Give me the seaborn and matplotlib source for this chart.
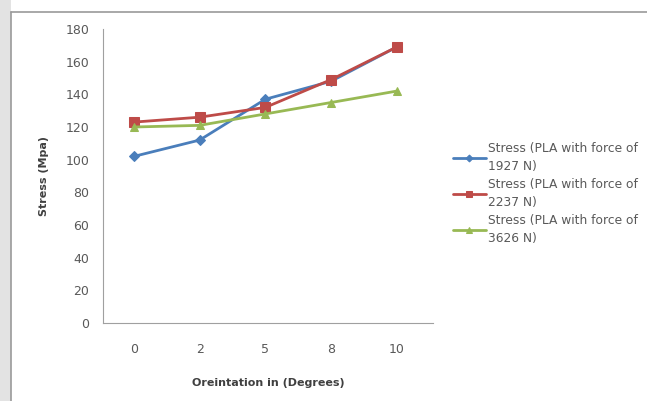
import matplotlib
matplotlib.use("Agg")
import matplotlib.pyplot as plt
from matplotlib.patches import Rectangle
from matplotlib.lines import Line2D
import seaborn as sns
import pandas as pd

orientation = ["0", "2", "5", "8", "10"]
stress_1927 = [102, 112, 137, 148, 169]
stress_2237 = [123, 126, 132, 149, 169]
stress_3626 = [120, 121, 128, 135, 142]
series_names = [
    "Stress (PLA with force of\n1927 N)",
    "Stress (PLA with force of\n2237 N)",
    "Stress (PLA with force of\n3626 N)",
]
y_ticks = [0, 20, 40, 60, 80, 100, 120, 140, 160, 180]

colors = ["#4A7EBB", "#BE4B48", "#98B954"]
markers = ["D", "s", "^"]
marker_sizes = [5, 7, 6]

sns.set_style("white")
plt.rcParams["font.family"] = ["DejaVu Sans"]

df = pd.concat([
    pd.DataFrame({"Orientation": orientation, "Stress": vals, "Series": name})
    for vals, name in zip([stress_1927, stress_2237, stress_3626], series_names)
])

fig = plt.figure(figsize=(6.47, 4.01), dpi=100)
fig.patch.set_facecolor("white")

# light gray strip at the left and chart frame
fig.add_artist(Rectangle((0, 0), 11 / 647, 1, transform=fig.transFigure,
                         facecolor="#e3e3e3", edgecolor="none", zorder=0))
fig.add_artist(Line2D([11 / 647, 11 / 647], [0, 1 - 12 / 401], transform=fig.transFigure,
                      color="#9a9a9a", lw=1.2))
fig.add_artist(Line2D([11 / 647, 1], [1 - 12 / 401, 1 - 12 / 401], transform=fig.transFigure,
                      color="#9a9a9a", lw=1.2))

ax = fig.add_axes([103 / 647, 78 / 401, 330 / 647, 294 / 401])

for name, c, m, ms in zip(series_names, colors, markers, marker_sizes):
    sub = df[df["Series"] == name]
    sns.lineplot(data=sub, x="Orientation", y="Stress", ax=ax, color=c,
                 marker=m, markersize=ms, markeredgecolor=c, linewidth=2,
                 label=name, sort=False)

ax.set_xlim(-0.47, 4.55)
ax.set_ylim(0, 180)
ax.set_yticks(y_ticks)
for side in ["top", "right"]:
    ax.spines[side].set_visible(False)
for side in ["left", "bottom"]:
    ax.spines[side].set_color("#a0a0a0")
    ax.spines[side].set_linewidth(0.8)
ax.tick_params(axis="y", length=4, color="#a0a0a0", labelsize=9, labelcolor="#595959", pad=6)
ax.tick_params(axis="x", length=0, labelsize=9, labelcolor="#595959", pad=14.5)
ax.set_xlabel("Oreintation in (Degrees)", fontsize=8, fontweight="bold", color="#404040", labelpad=16)
ax.set_ylabel("Stress (Mpa)", fontsize=8, fontweight="bold", color="#404040", labelpad=12)

leg = ax.legend(loc="center left", bbox_to_anchor=(1.06, 0.44), frameon=False,
                fontsize=8.8, labelspacing=0.45, handlelength=2.7, handletextpad=0.2,
                borderaxespad=0, borderpad=0, markerscale=0.7)
for t in leg.get_texts():
    t.set_color("#595959")
    t.set_linespacing(1.45)

fig.savefig("out.png", dpi=100, facecolor=fig.get_facecolor())
